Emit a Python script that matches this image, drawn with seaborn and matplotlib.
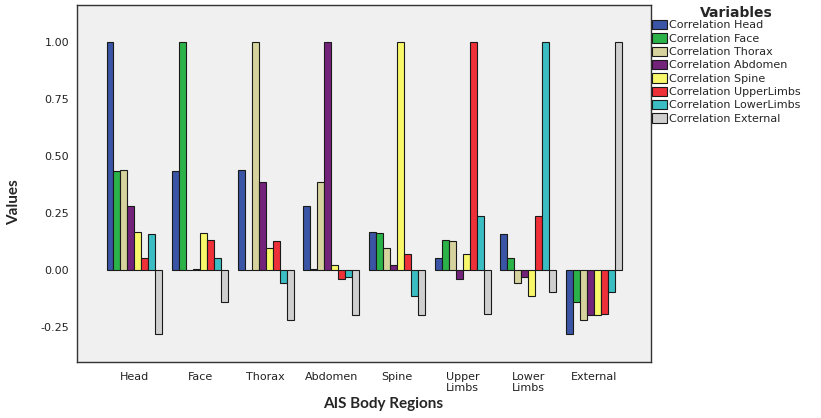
import numpy as np
import pandas as pd
import matplotlib
matplotlib.use("Agg")
import matplotlib.pyplot as plt
import seaborn as sns

# AIS body regions (x categories)
regions = ["Head", "Face", "Thorax", "Abdomen", "Spine", "Upper\nLimbs", "Lower\nLimbs", "External"]

# one correlation series per variable
corr_head = [1.00, 0.434, 0.440, 0.282, 0.167, 0.051, 0.159, -0.281]
corr_face = [0.434, 1.00, -0.002, 0.003, 0.164, 0.130, 0.051, -0.142]
corr_thorax = [0.440, -0.002, 1.00, 0.386, 0.094, 0.127, -0.058, -0.221]
corr_abdomen = [0.282, 0.003, 0.386, 1.00, 0.022, -0.042, -0.032, -0.197]
corr_spine = [0.167, 0.164, 0.094, 0.022, 1.00, 0.070, -0.114, -0.197]
corr_upper = [0.051, 0.130, 0.127, -0.042, 0.070, 1.00, 0.237, -0.194]
corr_lower = [0.159, 0.051, -0.058, -0.032, -0.114, 0.237, 1.00, -0.099]
corr_external = [-0.281, -0.142, -0.221, -0.197, -0.197, -0.194, -0.099, 1.00]

variables = ["Correlation Head", "Correlation Face", "Correlation Thorax", "Correlation Abdomen",
             "Correlation Spine", "Correlation UpperLimbs", "Correlation LowerLimbs", "Correlation External"]
series = [corr_head, corr_face, corr_thorax, corr_abdomen, corr_spine, corr_upper, corr_lower, corr_external]
colors = ["#3A55A5", "#2BB34A", "#D6D39E", "#74237B", "#F9F86B", "#EE3038", "#3BBEC3", "#CFCFCF"]

df = pd.DataFrame([(r, v, val) for v, s in zip(variables, series) for r, val in zip(regions, s)],
                  columns=["region", "variable", "value"])

sns.set_style("white")
plt.rcParams["font.family"] = ["DejaVu Sans"]

fig = plt.figure(figsize=(8.21, 4.18), dpi=100)
ax = fig.add_axes([77.3 / 821, 1 - 362 / 418, (651 - 77.3) / 821, (362 - 5) / 418])
ax.set_facecolor("#F0F0F0")

sns.barplot(data=df, x="region", y="value", hue="variable", order=regions, hue_order=variables,
            palette=colors, saturation=1, width=0.85, edgecolor="#1a1a1a", linewidth=0.8, ax=ax)

ax.set_xlim(-0.87, 7.87)
ax.set_ylim(-0.404, 1.162)
ax.set_yticks([-0.25, 0.0, 0.25, 0.5, 0.75, 1.0])
ax.set_yticklabels(["%.2f" % t for t in ax.get_yticks()])
ax.tick_params(axis="both", direction="out", length=4, width=1, colors="#222222", labelsize=8, pad=2)
ax.tick_params(axis="x", length=5)
for sp in ax.spines.values():
    sp.set_visible(True)
    sp.set_color("#333333")
    sp.set_linewidth(1)

ax.set_xlabel("AIS Body Regions", fontsize=11, fontweight="bold", family="Lato")
ax.set_ylabel("Values", fontsize=11, fontweight="bold", family="Lato")
ax.xaxis.set_label_coords(0.533, -0.098)
ax.yaxis.set_label_coords(-0.098, 0.448)

ax.legend_.remove()
handles = [plt.Rectangle((0, 0), 1, 1, facecolor=c, edgecolor="#1a1a1a", linewidth=0.8) for c in colors]
fig.legend(handles, variables, loc="upper left", bbox_to_anchor=(652 / 821, 1 - 20 / 418),
           frameon=False, fontsize=8, handlelength=1.35, handleheight=0.9, handletextpad=0.2,
           labelspacing=0.26, borderaxespad=0, borderpad=0)
fig.text(736 / 821, 1 - 13 / 418, "Variables", ha="center", va="center", fontsize=10, fontweight="bold")

fig.savefig("out.png", dpi=100)
